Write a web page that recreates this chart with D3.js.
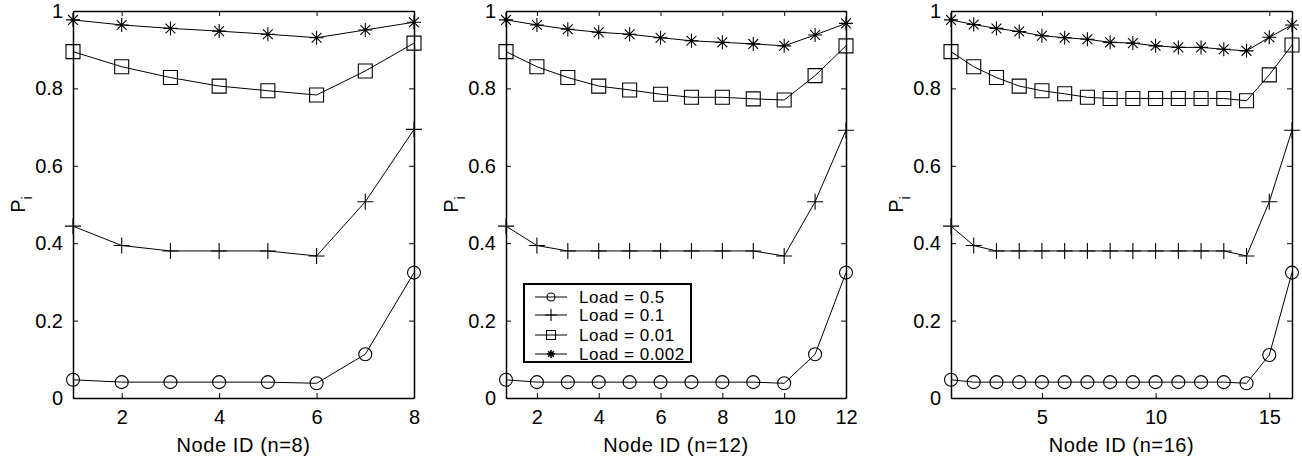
<!DOCTYPE html>
<html>
<head>
<meta charset="utf-8">
<script src="https://cdn.jsdelivr.net/npm/d3@7"></script>
<style>
  body { margin: 0; background: #fff; }
  text { font-family: "Liberation Sans", Arial, sans-serif; fill: #000; }
</style>
</head>
<body>
<svg id="chart" width="1302" height="464"></svg>
<script>
// Node IDs for each panel
var nodes8  = [1, 2, 3, 4, 5, 6, 7, 8];
var nodes12 = [1, 2, 3, 4, 5, 6, 7, 8, 9, 10, 11, 12];
var nodes16 = [1, 2, 3, 4, 5, 6, 7, 8, 9, 10, 11, 12, 13, 14, 15, 16];

// n = 8
var load05_n8   = [0.047, 0.041, 0.041, 0.041, 0.041, 0.038, 0.113, 0.324];
var load01_n8   = [0.444, 0.394, 0.380, 0.380, 0.380, 0.367, 0.507, 0.694];
var load001_n8  = [0.895, 0.856, 0.828, 0.806, 0.794, 0.783, 0.845, 0.917];
var load0002_n8 = [0.977, 0.964, 0.955, 0.948, 0.940, 0.931, 0.951, 0.971];

// n = 12
var load05_n12   = [0.047, 0.041, 0.041, 0.041, 0.041, 0.041, 0.041, 0.041, 0.041, 0.038, 0.113, 0.324];
var load01_n12   = [0.444, 0.394, 0.380, 0.380, 0.380, 0.380, 0.380, 0.380, 0.380, 0.367, 0.507, 0.692];
var load001_n12  = [0.895, 0.856, 0.828, 0.806, 0.796, 0.785, 0.777, 0.777, 0.773, 0.770, 0.833, 0.910];
var load0002_n12 = [0.977, 0.964, 0.953, 0.945, 0.940, 0.931, 0.923, 0.919, 0.915, 0.910, 0.938, 0.968];

// n = 16
var load05_n16   = [0.047, 0.041, 0.041, 0.041, 0.041, 0.041, 0.041, 0.041, 0.041, 0.041, 0.041, 0.041, 0.041, 0.038, 0.111, 0.324];
var load01_n16   = [0.444, 0.394, 0.380, 0.380, 0.380, 0.380, 0.380, 0.380, 0.380, 0.380, 0.380, 0.380, 0.380, 0.367, 0.507, 0.692];
var load001_n16  = [0.895, 0.856, 0.828, 0.806, 0.794, 0.786, 0.777, 0.774, 0.774, 0.774, 0.774, 0.774, 0.774, 0.768, 0.835, 0.912];
var load0002_n16 = [0.977, 0.965, 0.955, 0.947, 0.936, 0.931, 0.927, 0.919, 0.917, 0.910, 0.906, 0.906, 0.901, 0.897, 0.932, 0.964];

var seriesLabels = ["Load = 0.5", "Load = 0.1", "Load = 0.01", "Load = 0.002"];
var seriesMarkers = ["circle", "plus", "square", "star"];

var yTicks = [0, 0.2, 0.4, 0.6, 0.8, 1];
var yTickLabels = ["0", "0.2", "0.4", "0.6", "0.8", "1"];
var xTicks8 = [2, 4, 6, 8];
var xTicks12 = [2, 4, 6, 8, 10, 12];
var xTicks16 = [5, 10, 15];

var svg = d3.select("#chart");
var top_px = 11, bottom_px = 398;

// marker shapes, MATLAB style (unfilled)
function markerPath(type, s) {
  var p = d3.path();
  if (type == "circle") {
    p.moveTo(s, 0); p.arc(0, 0, s, 0, 2 * Math.PI);
  } else if (type == "square") {
    p.rect(-s, -s, 2 * s, 2 * s);
  } else if (type == "plus") {
    p.moveTo(-s, 0); p.lineTo(s, 0); p.moveTo(0, -s); p.lineTo(0, s);
  } else {
    var d = s * 0.7;
    p.moveTo(-s, 0); p.lineTo(s, 0); p.moveTo(0, -s); p.lineTo(0, s);
    p.moveTo(-d, -d); p.lineTo(d, d); p.moveTo(-d, d); p.lineTo(d, -d);
  }
  return p.toString();
}
var markerSize = {circle: 6.5, square: 7, plus: 8, star: 7};

function drawPanel(nodes, series, xTicks, xTitle, left, right, legend) {
  var x = d3.scaleLinear().domain([nodes[0], nodes[nodes.length - 1]]).range([left, right]);
  var y = d3.scaleLinear().domain([0, 1]).range([bottom_px, top_px]);
  var g = svg.append("g");

  // axes with inward ticks on all four sides
  var ax = [
    {gen: d3.axisBottom(x).tickValues(xTicks).tickFormat(d3.format("d")), t: "translate(0," + bottom_px + ")", lab: true},
    {gen: d3.axisTop(x).tickValues(xTicks).tickFormat(""), t: "translate(0," + top_px + ")", lab: false},
    {gen: d3.axisLeft(y).tickValues(yTicks).tickFormat(function(d, i) { return yTickLabels[i]; }), t: "translate(" + left + ",0)", lab: true},
    {gen: d3.axisRight(y).tickValues(yTicks).tickFormat(""), t: "translate(" + right + ",0)", lab: false}
  ];
  ax.forEach(function(a, i) {
    a.gen.tickSize(-5).tickSizeOuter(0).tickPadding(i == 0 ? 12 : 10);
    var ag = g.append("g").attr("transform", a.t).call(a.gen);
    ag.select(".domain").attr("stroke", "#000").attr("stroke-width", 1.5);
    ag.selectAll(".tick line").attr("stroke", "#000").attr("stroke-width", 1);
    ag.selectAll("text").style("font-size", "20px").style("font-family", "'Liberation Sans', Arial, sans-serif");
  });

  // lines + markers
  var line = d3.line().x(function(d, i) { return x(nodes[i]); }).y(function(d) { return y(d); });
  series.forEach(function(vals, k) {
    g.append("path").datum(vals)
      .attr("d", line).attr("fill", "none").attr("stroke", "#000").attr("stroke-width", 1);
    g.selectAll(".m" + k).data(vals).enter().append("path")
      .attr("class", "m" + k)
      .attr("transform", function(d, i) { return "translate(" + x(nodes[i]) + "," + y(d) + ")"; })
      .attr("d", markerPath(seriesMarkers[k], markerSize[seriesMarkers[k]]))
      .attr("fill", "none").attr("stroke", "#000").attr("stroke-width", 1.1);
  });

  // axis titles
  g.append("text")
    .attr("x", (left + right) / 2).attr("y", 452)
    .attr("text-anchor", "middle").style("font-size", "20px").style("letter-spacing", "0.6px")
    .text(xTitle);
  var yl = g.append("text")
    .attr("transform", "translate(" + (left - 48) + "," + ((top_px + bottom_px) / 2) + ") rotate(-90)")
    .attr("text-anchor", "middle").style("font-size", "20px");
  yl.append("tspan").text("P");
  yl.append("tspan").attr("dy", 7).style("font-size", "15px").text("i");

  if (legend) {
    var lx = left + 18, ly = 284;
    var lg = g.append("g").attr("transform", "translate(" + lx + "," + ly + ")");
    lg.append("rect").attr("width", 167).attr("height", 78)
      .attr("fill", "#fff").attr("stroke", "#000").attr("stroke-width", 2);
    var rows = [13, 31, 51, 70];
    var lsize = {circle: 4, square: 4.5, plus: 6, star: 4};
    seriesLabels.forEach(function(lab, k) {
      var row = lg.append("g").attr("transform", "translate(0," + rows[k] + ")");
      row.append("line").attr("x1", 11).attr("x2", 43).attr("stroke", "#000").attr("stroke-width", 1);
      row.append("path").attr("transform", "translate(27,0)")
        .attr("d", markerPath(seriesMarkers[k], lsize[seriesMarkers[k]]))
        .attr("fill", "none").attr("stroke", "#000").attr("stroke-width", seriesMarkers[k] == "star" ? 1.6 : 1.1);
      row.append("text").attr("x", 55).attr("dy", "0.36em")
        .style("font-size", "17px").style("letter-spacing", "0.5px").text(lab);
    });
  }
}

drawPanel(nodes8, [load05_n8, load01_n8, load001_n8, load0002_n8], xTicks8, "Node ID (n=8)", 73, 414, false);
drawPanel(nodes12, [load05_n12, load01_n12, load001_n12, load0002_n12], xTicks12, "Node ID (n=12)", 506, 846, true);
drawPanel(nodes16, [load05_n16, load01_n16, load001_n16, load0002_n16], xTicks16, "Node ID (n=16)", 951, 1292, false);
</script>
</body>
</html>
